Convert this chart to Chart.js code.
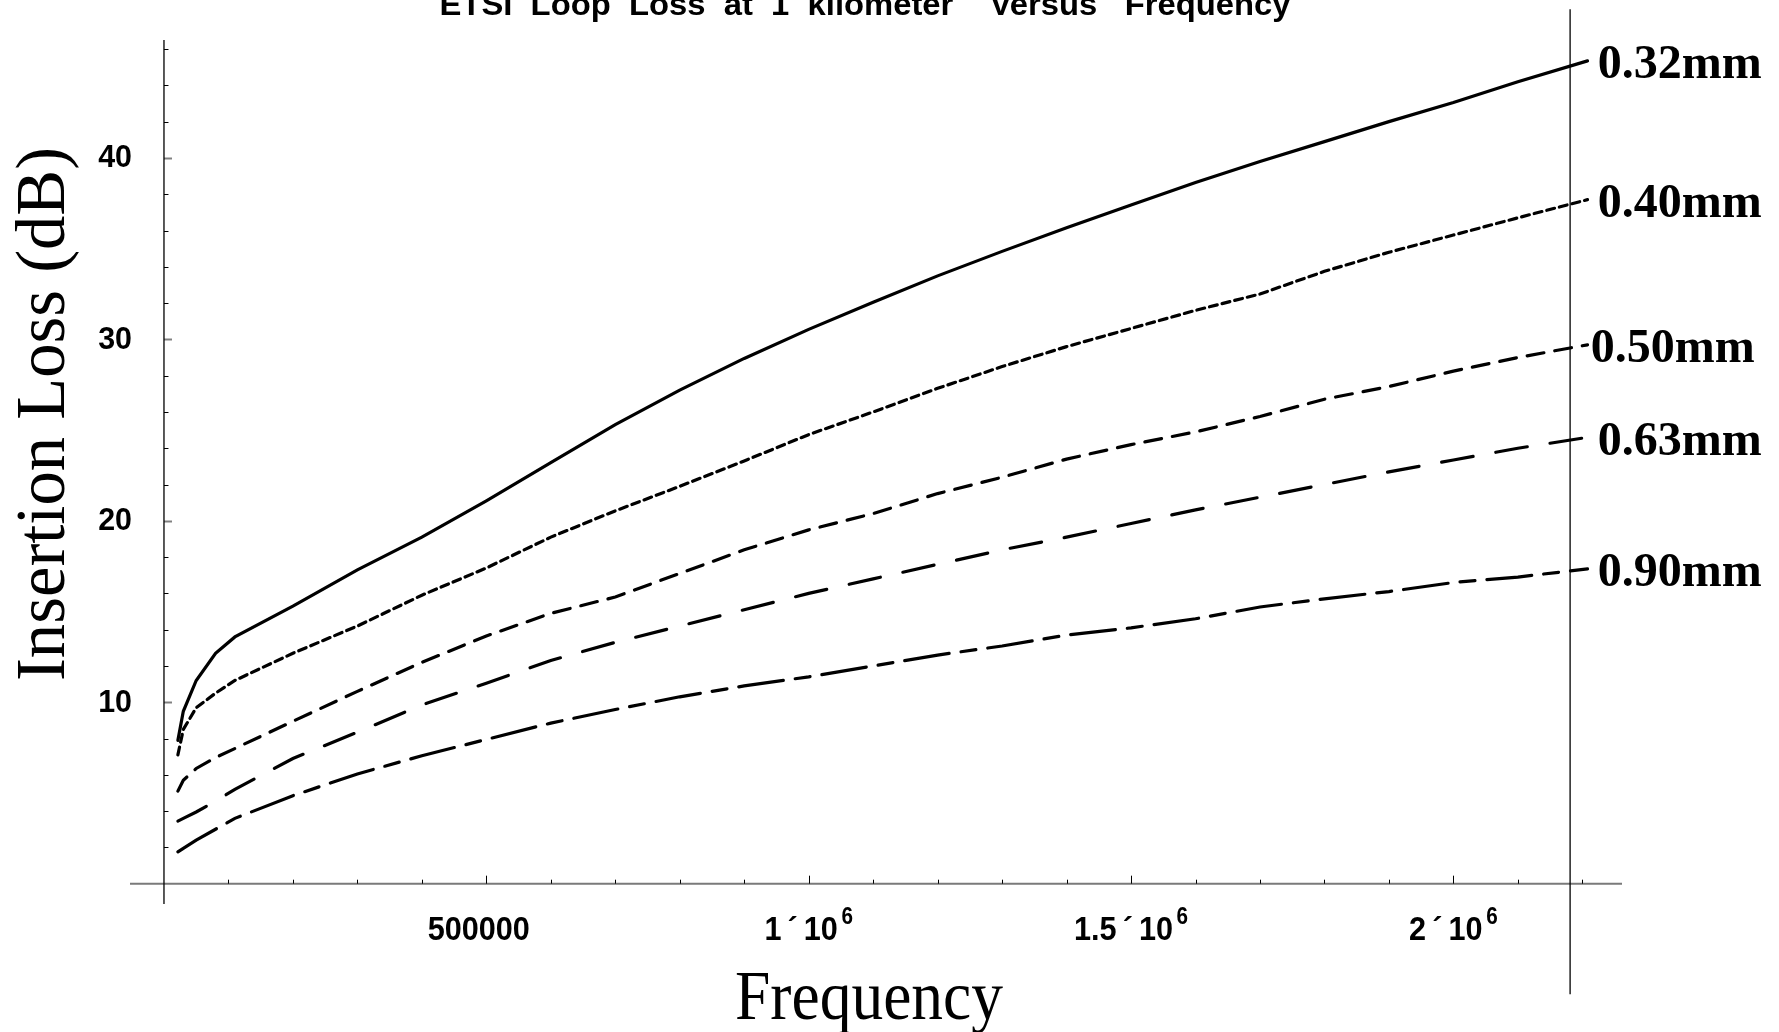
<!DOCTYPE html>
<html>
<head>
<meta charset="utf-8">
<title>ETSI Loop Loss</title>
<script src="https://cdn.jsdelivr.net/npm/chart.js@4.4.0/dist/chart.umd.min.js"></script>
<style>
  html, body { margin: 0; padding: 0; background: #fff; }
  canvas { display: block; }
</style>
</head>
<body>
<canvas id="lossChart" width="1779" height="1032"></canvas>
<script>
// frequency points (Hz)
const freqs = [21563, 30000, 50000, 80000, 110000, 200000, 300000, 400000, 500000, 600000,
  700000, 800000, 900000, 1000000, 1100000, 1200000, 1300000, 1400000, 1500000, 1600000,
  1700000, 1800000, 1900000, 2000000, 2100000, 2208000];

// insertion loss (dB) at 1 km
const loss032 = [7.9, 9.5, 11.2, 12.7, 13.6, 15.3, 17.3, 19.1, 21.1, 23.2, 25.3, 27.2, 28.95,
  30.55, 32.05, 33.5, 34.85, 36.15, 37.4, 38.65, 39.8, 40.9, 42.0, 43.05, 44.2, 45.35];
const loss040 = [7.1, 8.5, 9.7, 10.5, 11.2, 12.7, 14.2, 15.9, 17.4, 19.1, 20.55, 21.9, 23.3,
  24.75, 26.0, 27.3, 28.5, 29.6, 30.6, 31.6, 32.5, 33.75, 34.8, 35.75, 36.7, 37.7];
const loss050 = [5.1, 5.7, 6.35, 6.95, 7.45, 8.95, 10.6, 12.2, 13.65, 14.9, 15.8, 17.1, 18.4,
  19.5, 20.4, 21.5, 22.4, 23.4, 24.2, 24.9, 25.75, 26.7, 27.4, 28.25, 29.0, 29.7];
const loss063 = [3.45, 3.6, 3.95, 4.55, 5.2, 6.9, 8.35, 9.85, 11.05, 12.3, 13.3, 14.2, 15.1,
  16.0, 16.8, 17.6, 18.4, 19.1, 19.85, 20.6, 21.3, 22.0, 22.7, 23.35, 24.0, 24.6];
const loss090 = [1.75, 1.95, 2.4, 3.0, 3.6, 4.85, 6.05, 7.05, 7.95, 8.85, 9.6, 10.3, 10.9,
  11.4, 12.0, 12.6, 13.1, 13.7, 14.1, 14.6, 15.25, 15.7, 16.1, 16.6, 16.9, 17.35];

const gauges = ['0.32mm', '0.40mm', '0.50mm', '0.63mm', '0.90mm'];

// axis ticks
const yMajorTicks = [10, 20, 30, 40];
const yMinorStep = 2;
const xMajorTicks = [500000, 1000000, 1500000, 2000000];
const xTickLabels = [['500000', ''], ['1\u2009\u00b4\u200910', '6'], ['1.5\u2009\u00b4\u200910', '6'], ['2\u2009\u00b4\u200910', '6']];
const xMinorStep = 100000;
const markerFreq = 2181000;   // the vertical line on the right
const labelFreqs = [2224000, 2224000, 2213000, 2224000, 2224000];  // where the gauge labels start

const seriesList = [loss032, loss040, loss050, loss063, loss090];
const dashes = [[], [8, 5], [17, 11], [32, 23], [45, 12, 15, 12]];

function strokeLine(ctx, x1, y1, x2, y2) {
  ctx.beginPath();
  ctx.moveTo(x1, y1);
  ctx.lineTo(x2, y2);
  ctx.stroke();
}

// draws text squeezed/stretched to a given width
function fitText(ctx, text, cx, cy, font, width, rot) {
  ctx.save();
  ctx.font = font;
  ctx.translate(cx, cy);
  if (rot) ctx.rotate(rot);
  const w = ctx.measureText(text).width;
  ctx.scale(width / w, 1);
  ctx.textAlign = 'center';
  ctx.textBaseline = 'alphabetic';
  ctx.fillText(text, 0, 0);
  ctx.restore();
}

const tickFont = 'bold 34px "Liberation Sans", Arial, sans-serif';
const expFont = 'bold 23px "Liberation Sans", Arial, sans-serif';
const tickSqueeze = 0.9;

const axesPlugin = {
  id: 'axesPlugin',
  beforeDatasetsDraw(chart) {
    const { ctx, chartArea, scales: { x, y } } = chart;
    const x0 = x.getPixelForValue(0);
    const y0 = y.getPixelForValue(0);
    ctx.save();

    // x axis (grey)
    ctx.strokeStyle = '#7a7a7a';
    ctx.lineWidth = 2;
    strokeLine(ctx, chartArea.left, y0, chartArea.right, y0);

    // x ticks
    ctx.strokeStyle = '#000';
    ctx.lineWidth = 1;
    for (let f = xMinorStep; f <= x.max; f += xMinorStep) {
      const px = Math.round(x.getPixelForValue(f)) + 0.5;
      const major = xMajorTicks.some(v => Math.abs(v - f) < 1);
      strokeLine(ctx, px, y0, px, y0 - (major ? 8 : 4));
    }

    // y ticks
    for (let v = yMinorStep; v <= y.max; v += yMinorStep) {
      const py = Math.round(y.getPixelForValue(v)) + 0.5;
      if (yMajorTicks.includes(v)) {
        ctx.strokeStyle = '#808080';
        ctx.lineWidth = 2;
        strokeLine(ctx, x0, py, x0 + 8, py);
      } else {
        ctx.strokeStyle = '#000';
        ctx.lineWidth = 1;
        strokeLine(ctx, x0, py, x0 + 4.5, py);
      }
    }

    // y axis (black)
    ctx.strokeStyle = '#000';
    ctx.lineWidth = 1.3;
    strokeLine(ctx, x0, chartArea.top, x0, chartArea.bottom);

    // vertical marker line
    const mx = x.getPixelForValue(markerFreq);
    strokeLine(ctx, mx, y.getPixelForValue(48.2), mx, y.getPixelForValue(-6.1));

    // y tick labels
    ctx.fillStyle = '#000';
    ctx.font = 'bold 31px "Liberation Sans", Arial, sans-serif';
    ctx.textAlign = 'right';
    ctx.textBaseline = 'middle';
    yMajorTicks.forEach(v => {
      const py = y.getPixelForValue(v);
      ctx.save();
      ctx.translate(x0 - 32, py + 1);
      ctx.scale(0.98, 1);
      ctx.fillText(String(v), 0, 0);
      ctx.restore();
    });

    // x tick labels with exponent (the slot is kept even when empty)
    ctx.textAlign = 'left';
    ctx.textBaseline = 'alphabetic';
    ctx.font = expFont;
    const we = (ctx.measureText('6').width + 4) * tickSqueeze;
    xMajorTicks.forEach((v, i) => {
      const [base, exp] = xTickLabels[i];
      const px = x.getPixelForValue(v);
      const py = y0 + 44;
      ctx.font = tickFont;
      const wb = ctx.measureText(base).width * tickSqueeze;
      const left = px - (wb + we) / 2;
      ctx.save();
      ctx.translate(left, py + 12);
      ctx.scale(tickSqueeze, 1);
      ctx.fillText(base, 0, 0);
      if (exp) {
        ctx.font = expFont;
        ctx.fillText(exp, wb / tickSqueeze + 4, -16);
      }
      ctx.restore();
    });
    ctx.restore();
  },
  afterDraw(chart) {
    const { ctx, scales: { x, y } } = chart;
    ctx.save();
    ctx.fillStyle = '#000';

    // title, clipped at the top edge like the original
    fitText(ctx, 'ETSI  Loop  Loss  at  1  kilometer    Versus   Frequency', 865, 15,
      'bold 31px "Liberation Sans", Arial, sans-serif', 851);

    // axis titles
    fitText(ctx, 'Frequency', 869, 1019, '69px "Liberation Serif", "Times New Roman", serif', 268);
    fitText(ctx, 'Insertion Loss (dB)', 64, 414, '70px "Liberation Serif", "Times New Roman", serif', 534, -Math.PI / 2);

    // gauge labels at the end of each curve
    ctx.font = 'bold 48px "Liberation Serif", "Times New Roman", serif';
    ctx.textAlign = 'left';
    ctx.textBaseline = 'middle';
    seriesList.forEach((s, i) => {
      const py = y.getPixelForValue(s[s.length - 1]);
      ctx.fillText(gauges[i], x.getPixelForValue(labelFreqs[i]), py + 5);
    });
    ctx.restore();
  }
};

new Chart(document.getElementById('lossChart'), {
  type: 'line',
  data: {
    datasets: seriesList.map((s, i) => ({
      label: gauges[i],
      data: freqs.map((f, j) => ({ x: f, y: s[j] })),
      borderColor: '#000',
      borderWidth: 3.2,
      borderDash: dashes[i],
      borderCapStyle: 'round',
      pointRadius: 0,
      tension: 0,
      fill: false
    }))
  },
  options: {
    responsive: false,
    animation: false,
    devicePixelRatio: 1,
    layout: { padding: { left: 130, right: 157, top: 40, bottom: 128 } },
    plugins: { legend: { display: false }, title: { display: false }, tooltip: { enabled: false } },
    scales: {
      x: { type: 'linear', display: false, min: -52700, max: 2261500 },
      y: { type: 'linear', display: false, min: -1.12, max: 46.5 }
    }
  },
  plugins: [axesPlugin]
});
</script>
</body>
</html>
